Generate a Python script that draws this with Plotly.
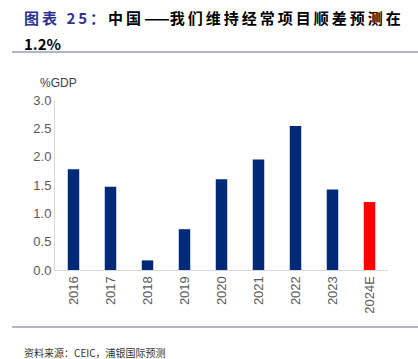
import plotly.graph_objects as go

years = ["2016", "2017", "2018", "2019", "2020", "2021", "2022", "2023", "2024E"]
values = [1.78, 1.47, 0.17, 0.72, 1.60, 1.95, 2.54, 1.42, 1.20]
colors = ["#002A77"] * 8 + ["#FF0000"]
y_ticks = [0.0, 0.5, 1.0, 1.5, 2.0, 2.5, 3.0]
y_tick_text = ["0.0", "0.5", "1.0", "1.5", "2.0", "2.5", "3.0"]

W, H = 418, 359
L, R, T, B = 55, 30, 100, 89
pw, ph = W - L - R, H - T - B

def px(x):
    return (x - L) / pw

def py(y):
    return (H - B - y) / ph

fig = go.Figure(go.Bar(x=years, y=values, marker=dict(color=colors, line=dict(width=0)), width=0.31))

cjk = "Noto Sans CJK SC"
tick_font = dict(family="Liberation Sans, Arial", size=13, color="#595959")

fig.update_layout(
    width=W, height=H,
    margin=dict(l=L, r=R, t=T, b=B),
    paper_bgcolor="white", plot_bgcolor="white",
    showlegend=False,
    xaxis=dict(showgrid=False, showline=True, linecolor="#D9D9D9", linewidth=1,
               tickangle=-90, tickfont=tick_font, ticks=""),
    yaxis=dict(range=[0, 3], tickvals=y_ticks, ticktext=y_tick_text, showgrid=False,
               showline=True, linecolor="#D9D9D9", linewidth=1, tickfont=tick_font,
               ticks="", zeroline=False),
    annotations=[
        dict(x=px(22), y=py(17), xref="paper", yref="paper", xanchor="left", yanchor="middle",
             showarrow=False,
             text="<b><span style='color:#2E3092;letter-spacing:3px'>图表 25：</span>"
                  "<span style='letter-spacing:3px'>中国</span>"
                  "<span style='letter-spacing:0px'>——</span>"
                  "<span style='letter-spacing:3px'>我们维持经常项目顺差预测在</span></b>",
             font=dict(family=cjk, size=15, color="black")),
        dict(x=px(22), y=py(43), xref="paper", yref="paper", xanchor="left", yanchor="middle",
             showarrow=False, text="<b>1.2%</b>",
             font=dict(family=cjk, size=15, color="black")),
        dict(x=px(38), y=py(83), xref="paper", yref="paper", xanchor="left", yanchor="middle",
             showarrow=False, text="%GDP",
             font=dict(family="Liberation Sans, Arial", size=12, color="#404040")),
        dict(x=px(22), y=py(352), xref="paper", yref="paper", xanchor="left", yanchor="middle",
             showarrow=False, text="资料来源：CEIC，浦银国际预测",
             font=dict(family=cjk, size=10, color="#333333")),
    ],
    shapes=[
        dict(type="line", xref="paper", yref="paper", x0=px(12), x1=px(418), y0=py(52), y1=py(52),
             line=dict(color="#6666A8", width=1.2)),
        dict(type="line", xref="paper", yref="paper", x0=px(12), x1=px(418), y0=py(327), y1=py(327),
             line=dict(color="#6666A8", width=1.2)),
    ],
)

fig.write_html("out.html", config={"displayModeBar": False},
               post_script="document.body.style.margin='0px';")
